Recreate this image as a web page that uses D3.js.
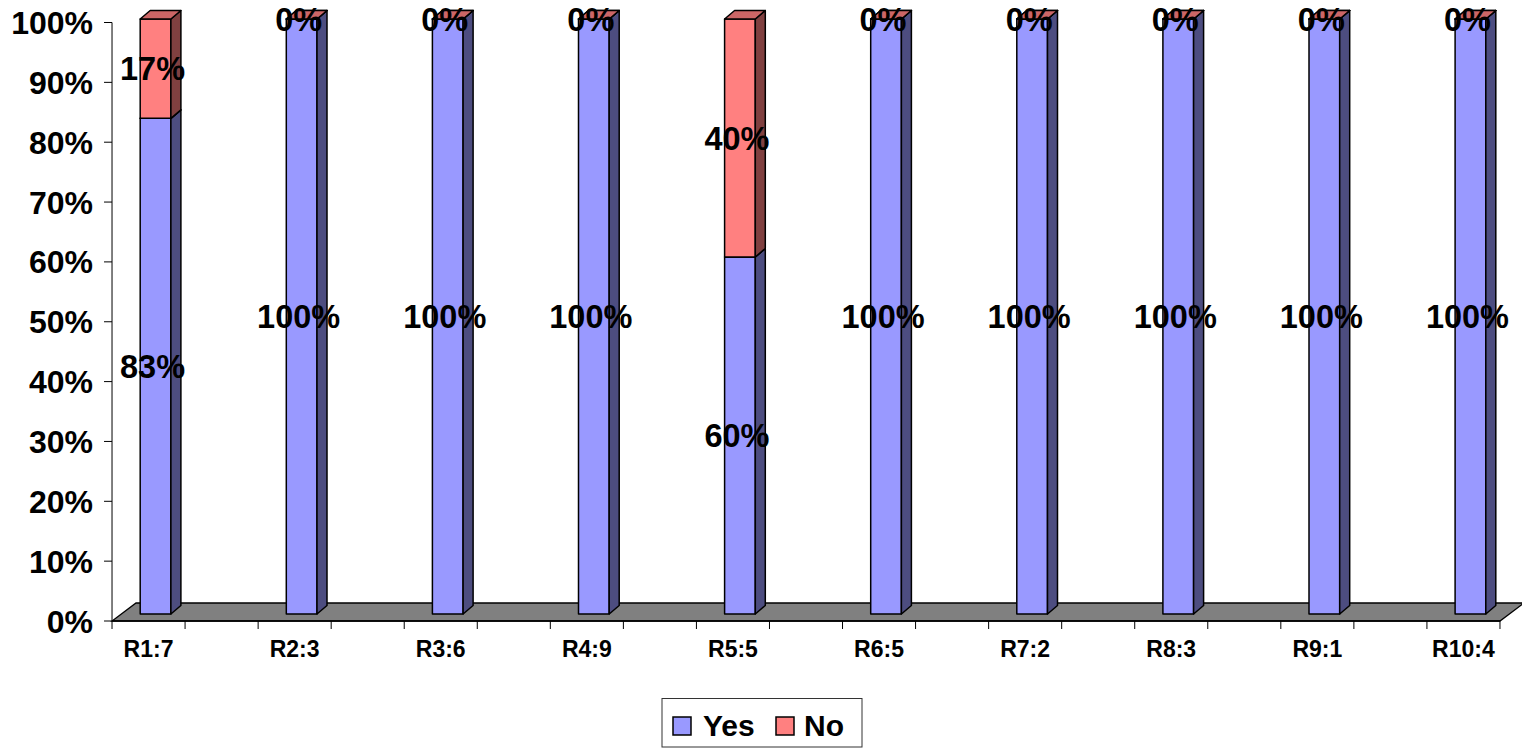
<!DOCTYPE html>
<html>
<head>
<meta charset="utf-8">
<script src="https://cdn.jsdelivr.net/npm/d3@7/dist/d3.min.js"></script>
<style>
  html, body { margin: 0; padding: 0; background: #fff; }
  svg { display: block; }
  text { font-family: "Liberation Sans", Arial, sans-serif; font-weight: bold; fill: #000; }
</style>
</head>
<body>
<svg id="chart" width="1522" height="748"></svg>
<script>
// ---- data ----
const categories = ["R1:7", "R2:3", "R3:6", "R4:9", "R5:5", "R6:5", "R7:2", "R8:3", "R9:1", "R10:4"];
const yesValues = [83.3, 100, 100, 100, 60, 100, 100, 100, 100, 100];
const noValues  = [16.7, 0, 0, 0, 40, 0, 0, 0, 0, 0];
const seriesNames = ["Yes", "No"];
const yTickValues = [0, 10, 20, 30, 40, 50, 60, 70, 80, 90, 100];

// ---- styles ----
const colors = {
  Yes: { front: "#9999FF", side: "#4D4D80", top: "#7A7ACC" },
  No:  { front: "#FF8080", side: "#804040", top: "#CC6666" }
};

const svg = d3.select("#chart");

// scales
const x = d3.scaleBand().domain(categories).range([75.5, 1536.5]);
const bw = x.bandwidth();
const yAxis = d3.scaleLinear().domain([0, 100]).range([621, 22.5]);
const yBar = d3.scaleLinear().domain([0, 100]).range([614, 19]);

const floorLeft = x.range()[0] + bw / 4;
const floorRight = x.range()[1] - bw / 4;
const floorDepth = { dx: 24, dy: -18 };
const barShift = 7;        // front face shift relative to category center
const barWidth = 30.7;
const barDepth = { dx: 10, dy: -8.5 };

// floor
const y0 = yAxis(0);
svg.append("path")
  .attr("d", `M${floorLeft},${y0} L${floorRight},${y0} L${floorRight + floorDepth.dx},${y0 + floorDepth.dy} L${floorLeft + floorDepth.dx},${y0 + floorDepth.dy} Z`)
  .attr("fill", "#808080")
  .attr("stroke", "#000")
  .attr("stroke-width", 1.3);

// value axis
const yG = svg.append("g");
yG.append("line")
  .attr("x1", floorLeft).attr("x2", floorLeft)
  .attr("y1", yAxis(0)).attr("y2", yAxis(100))
  .attr("stroke", "#000").attr("stroke-width", 1);
yG.selectAll("line.tick").data(yTickValues).enter().append("line")
  .attr("class", "tick")
  .attr("x1", floorLeft - 8).attr("x2", floorLeft)
  .attr("y1", d => yAxis(d)).attr("y2", d => yAxis(d))
  .attr("stroke", "#000").attr("stroke-width", 1);
yG.selectAll("text").data(yTickValues).enter().append("text")
  .attr("x", 93)
  .attr("y", d => yAxis(d) + 11.5)
  .attr("text-anchor", "end")
  .attr("font-size", 32)
  .text(d => d + "%");

// category axis
const xG = svg.append("g");
xG.append("line")
  .attr("x1", floorLeft).attr("x2", floorRight)
  .attr("y1", y0).attr("y2", y0)
  .attr("stroke", "#000").attr("stroke-width", 1.3);
const nTicks = Math.round((floorRight - floorLeft) / (bw / 2));
const xTickPos = d3.range(nTicks + 1).map(k => floorLeft + k * (floorRight - floorLeft) / nTicks);
xG.selectAll("line.tick").data(xTickPos).enter().append("line")
  .attr("class", "tick")
  .attr("x1", d => d).attr("x2", d => d)
  .attr("y1", y0).attr("y2", y0 + 8)
  .attr("stroke", "#000").attr("stroke-width", 1);
xG.selectAll("text").data(categories).enter().append("text")
  .attr("x", d => x(d) + bw / 2)
  .attr("y", 657)
  .attr("text-anchor", "middle")
  .attr("font-size", 23)
  .text(d => d);

// stacked bars
const rows = categories.map((c, i) => ({ cat: c, Yes: yesValues[i], No: noValues[i] }));
const stack = d3.stack().keys(seriesNames)(rows);

const barsG = svg.append("g");
const labels = [];
rows.forEach((r, i) => {
  const xl = x(r.cat) + bw / 2 + barShift - barWidth / 2;
  const xr = xl + barWidth;
  const g = barsG.append("g");
  stack.forEach(s => {
    const [v0, v1] = s[i];
    const c = colors[s.key];
    const yb = yBar(v0), yt = yBar(v1);
    // front
    g.append("path")
      .attr("d", `M${xl},${yb} L${xr},${yb} L${xr},${yt} L${xl},${yt} Z`)
      .attr("fill", c.front).attr("stroke", "#000").attr("stroke-width", 1.5).attr("stroke-linejoin", "round");
    // side
    g.append("path")
      .attr("d", `M${xr},${yb} L${xr + barDepth.dx},${yb + barDepth.dy} L${xr + barDepth.dx},${yt + barDepth.dy} L${xr},${yt} Z`)
      .attr("fill", c.side).attr("stroke", "#000").attr("stroke-width", 1.5).attr("stroke-linejoin", "round");
    // top
    g.append("path")
      .attr("d", `M${xl},${yt} L${xr},${yt} L${xr + barDepth.dx},${yt + barDepth.dy} L${xl + barDepth.dx},${yt + barDepth.dy} Z`)
      .attr("fill", c.top).attr("stroke", "#000").attr("stroke-width", 1.5).attr("stroke-linejoin", "round");
    labels.push({ x: (xl + xr) / 2 - 3, y: (yb + yt) / 2, v: v1 - v0 });
  });
});

// data labels
svg.append("g").selectAll("text").data(labels).enter().append("text")
  .attr("x", d => d.x)
  .attr("y", d => d.y + 11.5)
  .attr("text-anchor", "middle")
  .attr("font-size", 32.5)
  .text(d => Math.round(d.v) + "%");

// legend
const lg = svg.append("g");
lg.append("rect")
  .attr("x", 662).attr("y", 698.5).attr("width", 200).attr("height", 48.5)
  .attr("fill", "#fff").attr("stroke", "#333").attr("stroke-width", 1);
const legendItems = [
  { key: "Yes", sx: 673, tx: 703 },
  { key: "No", sx: 776, tx: 804 }
];
legendItems.forEach(it => {
  lg.append("rect")
    .attr("x", it.sx).attr("y", 717).attr("width", 18).attr("height", 18)
    .attr("fill", colors[it.key].front).attr("stroke", "#000").attr("stroke-width", 1.5);
  lg.append("text")
    .attr("x", it.tx).attr("y", 735.5)
    .attr("font-size", 30)
    .text(it.key);
});
</script>
</body>
</html>
